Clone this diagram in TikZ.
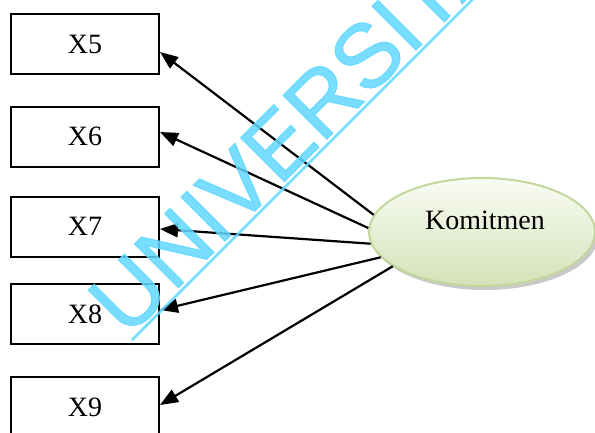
\documentclass[tikz,border=0pt]{standalone}
\usepackage{fontspec}
\setmainfont{Liberation Serif}
\newfontfamily\wmfont[FakeBold=1.2]{Liberation Sans}
\usetikzlibrary{shapes.geometric,arrows.meta,calc,shadows}
\definecolor{wmcyan}{RGB}{98,216,255}
\definecolor{ellborder}{RGB}{195,214,155}
\definecolor{elltop}{RGB}{250,252,244}
\definecolor{ellbot}{RGB}{212,226,184}
\tikzset{
  itembox/.style={draw=black, line width=2pt, fill=white, minimum width=148pt,
    minimum height=60pt, inner sep=0pt, font=\fontsize{28}{32}\selectfont},
  latent/.style={ellipse, draw=ellborder, line width=2pt, top color=elltop,
    bottom color=ellbot, minimum width=226pt, minimum height=108pt, inner sep=0pt,
    drop shadow={shadow xshift=3pt, shadow yshift=-4pt, fill=black!35, opacity=0.6}},
  loading/.style={line width=2.2pt, -{Triangle[length=18pt,width=14pt]}},
  wmtext/.style={rotate=45, anchor=base west, text=wmcyan, text opacity=0.85,
    inner sep=0pt, font=\wmfont\fontsize{90}{90}\selectfont},
}
\begin{document}
\begin{tikzpicture}[x=1pt, y=-1pt]
  \useasboundingbox (0,0) rectangle (595,432);
  \clip (0,0) rectangle (595,432);
  \fill[white] (0,0) rectangle (595,432);

  % indicator boxes
  \node[itembox] (x5) at (85,44) {X5};
  \node[itembox] (x6) at (85,136.5) {X6};
  \node[itembox] (x7) at (85,226.5) {X7};
  \node[itembox] (x8) at (85,314) {X8};
  \node[itembox] (x9) at (85,407) {X9};

  % latent construct
  \node[latent] (k) at (482,232) {};
  \node[font=\fontsize{28}{32}\selectfont] (kt) at (485,220) {Komitmen};

  % loadings
  \draw[loading] (k.171) -- ($(x5.east)+(0,8)$);
  \draw[loading] (k.178) -- ($(x6.east)+(0,-4.5)$);
  \draw[loading] (k.186) -- ($(x7.east)+(0,2.5)$);
  \draw[loading] (k.194) -- ($(x8.east)+(0,-4)$);
  \draw[loading] (k.201) -- ($(x9.east)+(0,-2)$);

  % watermark
  \node[wmtext] (wm) at (127,339) {UNIVERSITAS};
  \coordinate (ul1) at (132,340);
  \coordinate (ul2) at (482,-10);
  \draw[wmcyan, draw opacity=0.85, line width=2.5pt] (ul1) -- (ul2);
\end{tikzpicture}
\end{document}
